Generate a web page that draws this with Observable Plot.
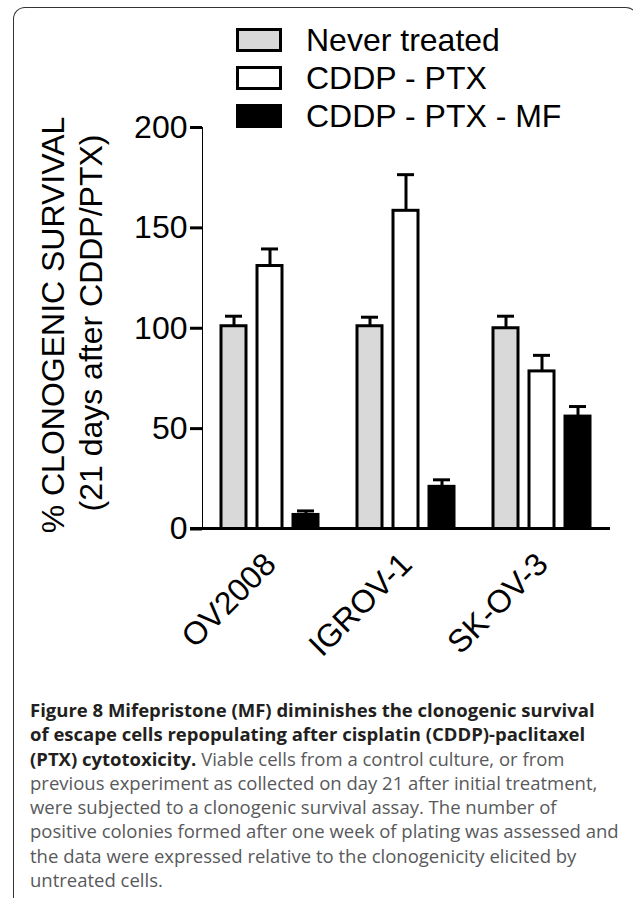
<!DOCTYPE html>
<html>
<head>
<meta charset="utf-8">
<script src="https://cdn.jsdelivr.net/npm/d3@7"></script>
<script src="https://cdn.jsdelivr.net/npm/@observablehq/plot@0.6"></script>
<style>
  html, body { margin: 0; padding: 0; background: #fff; }
  #wrap { position: relative; width: 633px; height: 903px; overflow: hidden; }
  #frame { position: absolute; left: 13px; top: 7px; width: 623px; height: 890px;
           border: 1.5px solid #333; border-bottom: none; border-radius: 12px 12px 0 0; }
  #chart { position: absolute; left: 0; top: 0; }
  #chart svg text { font-family: "Liberation Sans", Arial, Helvetica, sans-serif; font-size: 32px; fill: #000; }
  #chart svg g[aria-label^="y-axis"] line, #chart svg g[aria-label^="y-axis"] path { stroke: #000; stroke-width: 3px; }
  #legend { position: absolute; left: 0; top: 0; }
  .lg-sw { position: absolute; left: 236px; width: 46px; height: 24px; border: 3px solid #000; box-sizing: border-box; }
  .lg-tx { position: absolute; left: 306px; font-family: "Liberation Sans", Arial, sans-serif; font-size: 32px; line-height: 32px; color: #000; white-space: nowrap; }
  #caption { position: absolute; left: 30px; top: 698px; width: 600px; font-family: "Open Sans", sans-serif;
             font-size: 18.5px; line-height: 24.3px; color: #58595b; white-space: nowrap; }
  #caption b { color: #231f20; font-weight: 700; }
</style>
</head>
<body>
<div id="wrap">
  <div id="frame"></div>
  <div id="chart"></div>
  <div id="legend"></div>
  <div id="caption"></div>
</div>
<script>
const cells = ["OV2008", "IGROV-1", "SK-OV-3"];
const series = ["Never treated", "CDDP - PTX", "CDDP - PTX - MF"];
const neverTreated = [101, 101, 100];
const cddpPtx = [131, 158.5, 78.5];
const cddpPtxMf = [7, 21, 56];
const neverTreatedErr = [5, 4.5, 6];
const cddpPtxErr = [8.5, 18, 8];
const cddpPtxMfErr = [2, 3.5, 5];
const yTicks = [0, 50, 100, 150, 200];
const colors = ["#d9d9d9", "#ffffff", "#000000"];
const yTitle = ["% CLONOGENIC SURVIVAL", "(21 days after CDDP/PTX)"];
const captionBold = ["Figure 8 Mifepristone (MF) diminishes the clonogenic survival",
  "of escape cells repopulating after cisplatin (CDDP)-paclitaxel",
  "(PTX) cytotoxicity."];
const captionText = [" Viable cells from a control culture, or from",
  "previous experiment as collected on day 21 after initial treatment,",
  "were subjected to a clonogenic survival assay. The number of",
  "positive colonies formed after one week of plating was assessed and",
  "the data were expressed relative to the clonogenicity elicited by",
  "untreated cells."];

const values = [neverTreated, cddpPtx, cddpPtxMf];
const errs = [neverTreatedErr, cddpPtxErr, cddpPtxMfErr];
const rows = cells.flatMap((c, i) => series.map((s, j) => ({cell: c, series: s, value: values[j][i], err: errs[j][i]})));

const chart = Plot.plot({
  width: 633,
  height: 680,
  marginLeft: 202,
  marginRight: 23,
  marginTop: 127,
  marginBottom: 151.5,
  facet: {data: rows, x: "cell"},
  fx: {domain: cells, padding: 0, label: null, axis: "bottom", tickSize: 0, tickPadding: 30, tickRotate: -45},
  x: {domain: series, paddingInner: 0.3, paddingOuter: 0.513, axis: null},
  y: {domain: [0, 200], ticks: yTicks, tickSize: 12, tickPadding: 3, label: null, line: true},
  color: {domain: series, range: colors},
  style: {background: "transparent", color: "#000", overflow: "visible"},
  marks: [
    Plot.barY(rows, {x: "series", y: "value", fill: "series", stroke: "#000", strokeWidth: 3}),
    Plot.ruleX(rows, {x: "series", y1: "value", y2: d => d.value + d.err, stroke: "#000", strokeWidth: 3}),
    Plot.tickY(rows, {x: "series", y: d => d.value + d.err, stroke: "#000", strokeWidth: 3, insetLeft: 4, insetRight: 4})
  ]
});
document.getElementById("chart").appendChild(chart);

const svg = d3.select(chart);
// x-axis baseline, placed with the chart's own scales
const yScale = chart.scale("y");
const fxRange = chart.scale("fx").range;
const y0 = yScale.apply(0);
svg.append("line")
  .attr("x1", Math.min(...fxRange) - 12).attr("x2", Math.max(...fxRange))
  .attr("y1", y0).attr("y2", y0)
  .attr("stroke", "#000").attr("stroke-width", 3);

// y-axis title (two lines)
svg.append("text").attr("transform", "translate(64,325) rotate(-90)").attr("text-anchor", "middle").text(yTitle[0]);
svg.append("text").attr("transform", "translate(102,323) rotate(-90)").attr("text-anchor", "middle").text(yTitle[1]);

// legend
const legend = d3.select("#legend");
series.forEach((s, i) => {
  legend.append("div").attr("class", "lg-sw").style("top", (28 + i * 38) + "px").style("background", colors[i]);
  legend.append("div").attr("class", "lg-tx").style("top", (24 + i * 38) + "px").text(s);
});

// caption
const cap = document.getElementById("caption");
cap.innerHTML = captionBold.slice(0, 2).map(t => "<b>" + t + "</b>").join("<br>") + "<br><b>" + captionBold[2] + "</b>" +
  captionText.map((t, i) => (i === 0 ? "" : "<br>") + t).join("");
</script>
</body>
</html>
